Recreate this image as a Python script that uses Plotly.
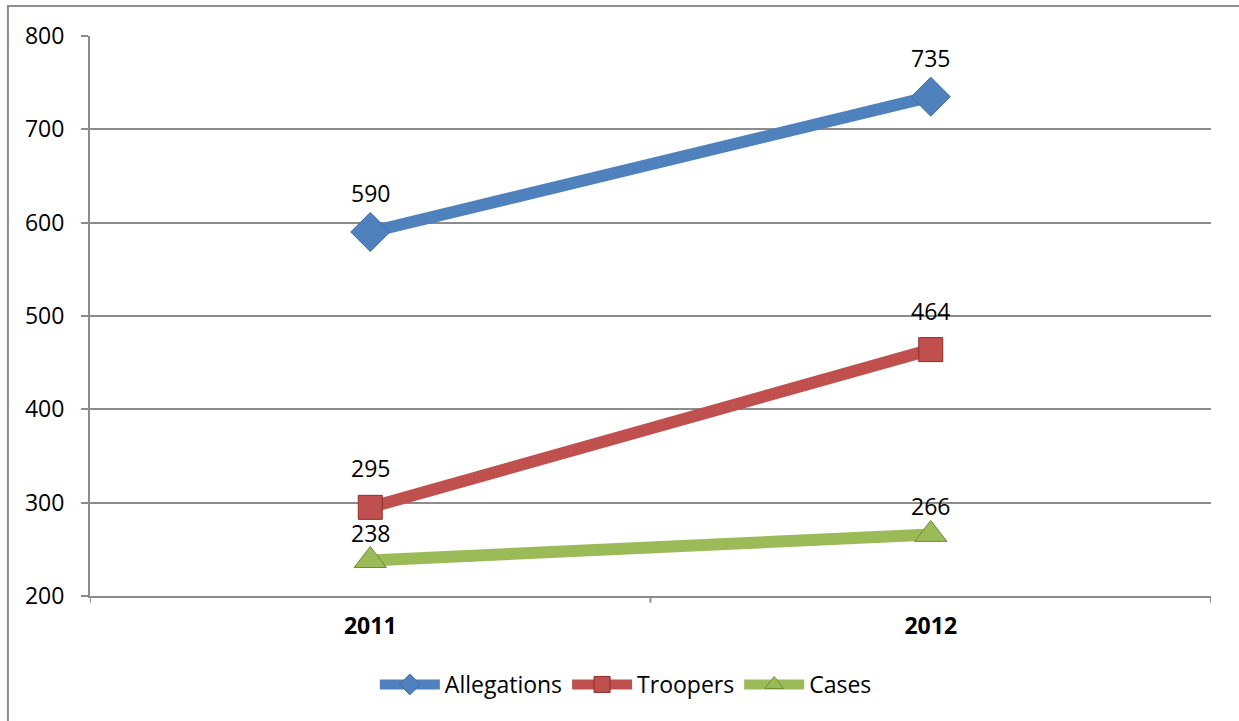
import plotly.graph_objects as go

categories = ["2011", "2012"]
allegations = [590, 735]
troopers = [295, 464]
cases = [238, 266]
y_ticks = [200, 300, 400, 500, 600, 700, 800]

series = [
    ("Allegations", allegations, "#4F81BD", "diamond", 30, "#3A6AA6"),
    ("Troopers", troopers, "#C0504D", "square", 24, "#8E2C29"),
    ("Cases", cases, "#9BBB59", "triangle-up", 28, "#6E8A35"),
]

FONT = "Open Sans, Liberation Sans, sans-serif"
FS = 23
xs = list(range(len(categories)))

fig = go.Figure()
annotations = []
for name, vals, col, sym, size, edge in series:
    fig.add_trace(go.Scatter(
        x=xs, y=vals, name=name, mode="lines+markers",
        line=dict(color=col, width=12),
        marker=dict(symbol=sym, size=size, color=col, line=dict(color=edge, width=1)),
    ))
    shift = 28 if name == "Cases" else 39
    for xi, v in zip(xs, vals):
        annotations.append(dict(x=xi, y=v, text=str(v), showarrow=False,
                                yshift=shift, xref="x", yref="y",
                                font=dict(size=FS, color="black", family=FONT)))

fig.update_layout(
    width=1239, height=721,
    margin=dict(l=90, r=28, t=36, b=125),
    paper_bgcolor="white", plot_bgcolor="white",
    font=dict(family=FONT, size=FS, color="black"),
    showlegend=True,
    legend=dict(orientation="h", x=0.478, xanchor="center", y=-0.158, yanchor="middle",
                font=dict(size=FS, family=FONT), tracegroupgap=0, itemwidth=60),
    annotations=annotations,
    xaxis=dict(range=[-0.5, 1.5], tickmode="array", tickvals=xs, ticktext=categories,
               tickfont=dict(size=23, family=FONT, color="black", weight="bold"),
               showgrid=False, showline=True, linecolor="#8C8C8C", linewidth=2,
               ticks="", zeroline=False, ticklabelstandoff=8),
    yaxis=dict(range=[200, 800], tickmode="array", tickvals=y_ticks,
               showgrid=True, gridcolor="#8C8C8C", gridwidth=1.5,
               showline=True, linecolor="#8C8C8C", linewidth=2,
               ticks="outside", ticklen=7, tickcolor="#8C8C8C", tickwidth=1.5,
               ticklabelstandoff=12,
               tickfont=dict(size=FS, family=FONT, color="black"), zeroline=False),
    shapes=[
        dict(type="rect", xref="paper", yref="paper", x0=-0.0732, x1=1.1, y0=-0.4, y1=1.0536,
             line=dict(color="#8C8C8C", width=2), layer="below"),
    ],
)
# category separator ticks on x axis
for xv in [-0.5, 0.5, 1.5]:
    fig.add_shape(type="line", xref="x", yref="paper", x0=xv, x1=xv, y0=0, y1=-0.012,
                  line=dict(color="#8C8C8C", width=2))

fig.write_html("out.html", config={"displayModeBar": False},
               post_script="document.body.style.margin='0';")
